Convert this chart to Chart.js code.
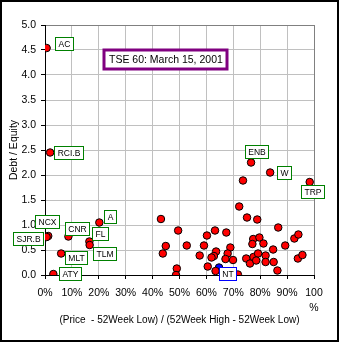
<!DOCTYPE html>
<html>
<head>
<meta charset="utf-8">
<script src="https://cdn.jsdelivr.net/npm/chart.js@4.4.0/dist/chart.umd.min.js"></script>
<style>
  html, body { margin: 0; padding: 0; background: #fff; }
  #wrap { width: 339px; height: 342px; }
</style>
</head>
<body>
<div id="wrap"><canvas id="chart" width="339" height="342"></canvas></div>
<script>
// % of 52-week range vs debt/equity, TSE 60 constituents
const xTickValues = [0, 10, 20, 30, 40, 50, 60, 70, 80, 90, 100];
const xTickLabels = ['0%', '10%', '20%', '30%', '40%', '50%', '60%', '70%', '80%', '90%', ['100', '%']];
const yTickValues = [0, 0.5, 1, 1.5, 2, 2.5, 3, 3.5, 4, 4.5, 5];

// named companies
const tickers    = ['AC', 'RCI.B', 'NCX', 'SJR.B', 'CNR', 'FL', 'TLM', 'MLT', 'ATY', 'A', 'ENB', 'W', 'TRP', 'NT'];
const tickerPct  = [0.6, 1.9, 1.2, 0.6, 8.7, 16.5, 16.6, 6.0, 3.1, 20.2, 76.6, 83.7, 98.4, 64.7];
const tickerDE   = [4.54, 2.45, 0.78, 0.76, 0.77, 0.67, 0.60, 0.43, 0.02, 1.05, 2.25, 2.05, 1.86, 0.15];
const highlight  = 'NT';

// the rest of the index
const otherPct = [73.6, 72.2, 75.1, 78.9, 43.1, 43.8, 44.9, 49.5, 52.7, 49.0, 48.7, 57.5, 59.1, 60.2, 63.2, 67.4,
                  68.9, 67.9, 63.6, 62.8, 61.9, 67.1, 69.9, 60.5, 63.4, 71.7, 77.4, 79.7, 77.1, 81.2, 84.8, 86.7,
                  89.3, 92.7, 94.2, 94.0, 95.7, 74.8, 77.5, 79.2, 82.0, 76.2, 78.5, 82.0, 85.0, 86.4];
const otherDE  = [1.89, 1.37, 1.15, 1.11, 1.12, 0.43, 0.58, 0.89, 0.59, 0.13, 0.00, 0.39, 0.59, 0.79, 0.89, 0.85,
                  0.55, 0.43, 0.47, 0.38, 0.35, 0.32, 0.30, 0.17, 0.08, 0.01, 0.72, 0.75, 0.62, 0.63, 0.51, 0.95,
                  0.59, 0.73, 0.81, 0.33, 0.40, 0.33, 0.36, 0.43, 0.39, 0.23, 0.29, 0.26, 0.26, 0.09];

const chartTitle = 'TSE 60: March 15, 2001';

// callout box centre, relative to its point (px)
const calloutOffset = {
  'AC': [17, -4], 'RCI.B': [18.5, 0], 'NCX': [-1, -14.5], 'SJR.B': [-18.5, 1.5], 'CNR': [8.3, -7.7],
  'FL': [10.8, -7.3], 'TLM': [15, 8.7], 'MLT': [14.8, 4.2], 'ATY': [16.8, 0], 'A': [10.8, -5.7],
  'ENB': [6.3, -10.7], 'W': [13.8, 0], 'TRP': [3, 10], 'NT': [8.8, 6.7]
};

const FONT = '"Liberation Sans", Arial, sans-serif';

const otherPoints = otherPct.map((x, i) => ({ x, y: otherDE[i] }));
const namedPoints = [], hiPoints = [];
tickers.forEach((t, i) => {
  const p = { x: tickerPct[i], y: tickerDE[i], name: t };
  (t === highlight ? hiPoints : namedPoints).push(p);
});

const callouts = {
  id: 'callouts',
  beforeDraw(chart) {
    const ctx = chart.ctx;
    ctx.save();
    ctx.fillStyle = '#fff';
    ctx.fillRect(0, 0, chart.width, chart.height);
    ctx.restore();
  },
  afterDatasetsDraw(chart) {
    const { ctx, scales: { x, y }, chartArea } = chart;
    ctx.save();
    ctx.font = '8.5px ' + FONT;
    ctx.textAlign = 'center';
    ctx.textBaseline = 'middle';
    tickers.forEach((t, i) => {
      const off = calloutOffset[t];
      const cx = Math.round(x.getPixelForValue(tickerPct[i]) + off[0]);
      const cy = Math.round(y.getPixelForValue(tickerDE[i]) + off[1]);
      const w = Math.round(ctx.measureText(t).width + 6);
      const h = 13;
      const left = cx - Math.round(w / 2), top = cy - Math.round(h / 2);
      ctx.fillStyle = '#fff';
      ctx.fillRect(left, top, w, h);
      ctx.strokeStyle = t === highlight ? '#0000ff' : '#008000';
      ctx.lineWidth = 1;
      ctx.strokeRect(left + 0.5, top + 0.5, w, h);
      ctx.fillStyle = '#000';
      ctx.fillText(t, left + w / 2 + 0.5, top + h / 2 + 1);
    });

    // title box inside the plot
    ctx.font = '10.5px ' + FONT;
    const tw = ctx.measureText(chartTitle).width;
    const bx = chartArea.left + 59, by = chartArea.top + 25;
    const bw = Math.round(tw + 9), bh = 19;
    ctx.fillStyle = '#fff';
    ctx.fillRect(bx, by, bw, bh);
    ctx.strokeStyle = '#800080';
    ctx.lineWidth = 3;
    ctx.strokeRect(bx, by, bw, bh);
    ctx.fillStyle = '#000';
    ctx.textAlign = 'left';
    ctx.fillText(chartTitle, bx + 5, by + bh / 2 + 1);
    ctx.restore();
  },
  afterDraw(chart) {
    const ctx = chart.ctx;
    ctx.save();
    ctx.strokeStyle = '#000';
    ctx.lineWidth = 2;
    ctx.strokeRect(1, 1, chart.width - 2, chart.height - 2);
    ctx.restore();
  }
};

const pointStyle = { pointRadius: 3.75, pointHoverRadius: 3.75, borderColor: '#000', borderWidth: 1, showLine: false };

new Chart(document.getElementById('chart'), {
  type: 'scatter',
  data: {
    datasets: [
      { data: otherPoints, backgroundColor: '#ff0000', ...pointStyle },
      { data: namedPoints, backgroundColor: '#ff0000', ...pointStyle },
      { data: hiPoints, backgroundColor: '#0000ff', ...pointStyle }
    ]
  },
  options: {
    responsive: false,
    animation: false,
    layout: { padding: { left: 4, right: 25, top: 25, bottom: 12 } },
    plugins: { legend: { display: false }, tooltip: { enabled: false } },
    scales: {
      x: {
        type: 'linear', min: 0, max: 100,
        afterBuildTicks: s => { s.ticks = xTickValues.map(v => ({ value: v })); },
        afterFit: s => { s.height = 55; },
        border: { color: '#000', width: 1 },
        grid: {
          color: c => c.tick && c.tick.value === 100 ? '#808080' : '#c0c0c0',
          tickColor: '#000', tickLength: 4
        },
        ticks: {
          color: '#000', padding: 7, maxRotation: 0, autoSkip: false,
          font: { family: FONT, size: 10.5, lineHeight: 1.4 },
          callback: v => xTickLabels[xTickValues.indexOf(v)]
        },
        title: {
          display: true, text: '(Price  - 52Week Low) / (52Week High - 52Week Low)',
          color: '#000', font: { family: FONT, size: 10 }, padding: { top: 2, bottom: 4 }
        }
      },
      y: {
        type: 'linear', min: 0, max: 5,
        afterBuildTicks: s => { s.ticks = yTickValues.map(v => ({ value: v })); },
        afterFit: s => { s.width = 41; },
        border: { color: '#000', width: 1 },
        grid: {
          color: c => c.tick && c.tick.value === 5 ? '#808080' : '#c0c0c0',
          tickColor: '#000', tickLength: 4
        },
        ticks: {
          color: '#000', padding: 5, autoSkip: false,
          font: { family: FONT, size: 10.5 },
          callback: v => v.toFixed(1)
        },
        title: {
          display: true, text: 'Debt / Equity',
          color: '#000', font: { family: FONT, size: 10.5 }, padding: { top: 4, bottom: 2 }
        }
      }
    }
  },
  plugins: [callouts]
});
</script>
</body>
</html>
